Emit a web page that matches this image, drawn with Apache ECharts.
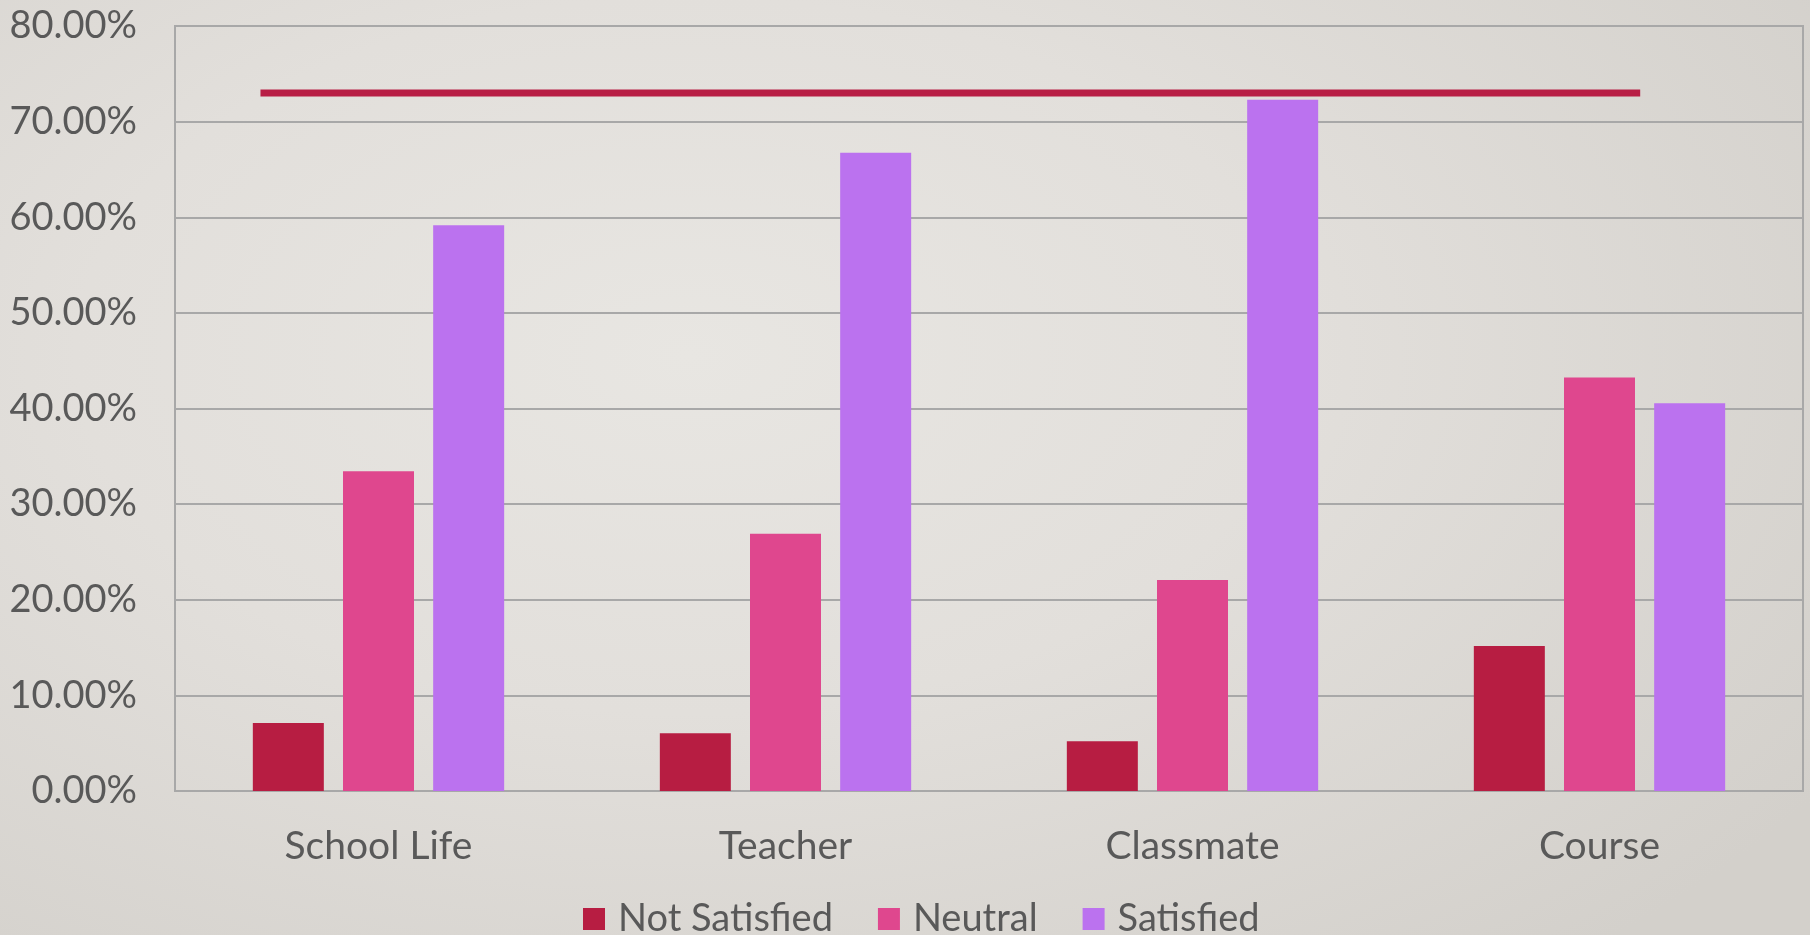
<!DOCTYPE html>
<html>
<head>
<meta charset="utf-8">
<title>Satisfaction</title>
<script src="https://cdn.jsdelivr.net/npm/echarts@6/dist/echarts.min.js"></script>
<style>
  html, body {
    margin: 0;
    padding: 0;
    width: 1810px;
    height: 935px;
    overflow: hidden;
  }
  .chart-card {
    width: 1810px;
    height: 935px;
    background: radial-gradient(ellipse 75% 85% at 38% 38%, #e8e6e2 0%, #e2dfdb 45%, #d3d0cb 100%);
  }
  .chart {
    width: 100%;
    height: 100%;
  }
</style>
</head>
<body>
<div class="chart-card">
  <div id="chart" class="chart"></div>
</div>
<script>
// values, in percent
const categories = ['School Life', 'Teacher', 'Classmate', 'Course'];
const notSatisfied = [7.11, 6.03, 5.2, 15.17];
const neutral = [33.44, 26.9, 22.07, 43.23];
const satisfied = [59.17, 66.74, 72.28, 40.55];
const yTicks = [0, 10, 20, 30, 40, 50, 60, 70, 80];

// the red reference line: level and horizontal span in category units (0..4)
const targetLevel = 73;
const targetSpan = [0.21, 3.6];

const labelColor = '#595959';
const fontFamily = 'Lato, "Open Sans", sans-serif';

const chartOptions = {
  backgroundColor: 'transparent',
  animation: false,
  textStyle: {
    fontFamily: fontFamily
  },
  grid: {
    left: 175,
    right: 7,
    top: 26,
    bottom: 144,
    show: true,
    borderColor: '#a8a8a8',
    borderWidth: 2,
    backgroundColor: 'transparent'
  },
  legend: {
    data: ['Not Satisfied', 'Neutral', 'Satisfied'],
    left: 578,
    top: 895,
    icon: 'rect',
    itemWidth: 22,
    itemHeight: 22,
    itemGap: 45,
    textStyle: {
      color: labelColor,
      fontSize: 38,
      fontFamily: fontFamily,
      padding: [0, 0, 0, 8]
    }
  },
  xAxis: [
    {
      type: 'category',
      data: categories,
      axisTick: { show: false },
      axisLine: { lineStyle: { color: '#a8a8a8', width: 2 } },
      axisLabel: {
        color: labelColor,
        fontSize: 39,
        margin: 36
      }
    },
    {
      // hidden helper axis so the red line can start and stop between categories
      type: 'value',
      min: 0,
      max: categories.length,
      show: false
    }
  ],
  yAxis: {
    type: 'value',
    min: yTicks[0],
    max: yTicks[yTicks.length - 1],
    interval: yTicks[1] - yTicks[0],
    axisLine: { show: true, lineStyle: { color: '#a8a8a8', width: 2 } },
    axisTick: { show: false },
    splitLine: { lineStyle: { color: '#a8a8a8', width: 2 } },
    axisLabel: {
      color: labelColor,
      fontSize: 38,
      margin: 38,
      formatter: function (v) {
        return v.toFixed(2) + '%';
      }
    }
  },
  series: [
    {
      name: 'Not Satisfied',
      type: 'bar',
      barWidth: 71,
      barGap: '27%',
      itemStyle: { color: '#b71d42' },
      data: notSatisfied
    },
    {
      name: 'Neutral',
      type: 'bar',
      barWidth: 71,
      barGap: '27%',
      itemStyle: { color: '#df478e' },
      data: neutral
    },
    {
      name: 'Satisfied',
      type: 'bar',
      barWidth: 71,
      barGap: '27%',
      itemStyle: { color: '#bb72ef' },
      data: satisfied
    },
    {
      name: 'target',
      type: 'line',
      xAxisIndex: 1,
      symbol: 'none',
      silent: true,
      lineStyle: { color: '#b81e45', width: 7 },
      data: targetSpan.map(function (x) { return [x, targetLevel]; })
    }
  ]
};

const chartInstance = echarts.init(document.getElementById('chart'));
chartInstance.setOption(chartOptions);
window.addEventListener('resize', function () {
  chartInstance.resize();
});
</script>
</body>
</html>
